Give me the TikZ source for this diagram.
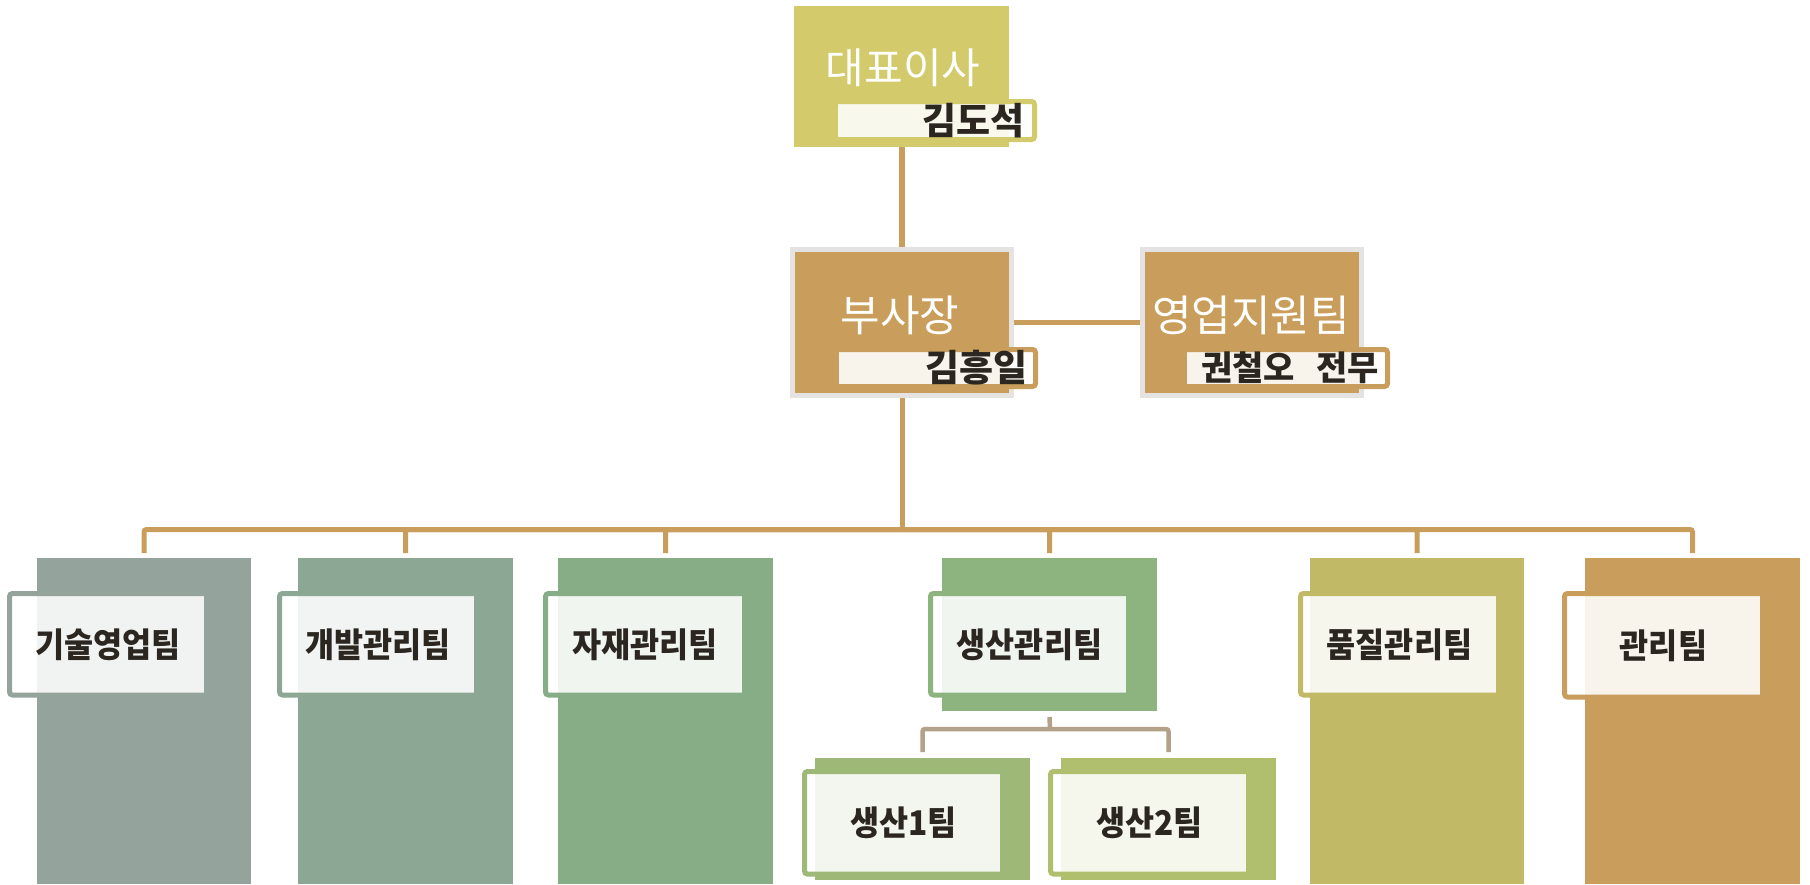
\documentclass[tikz,border=0pt]{standalone}
\usepackage{fontspec}
\newfontfamily\krA{Noto Sans CJK KR}
\newfontfamily\krT[FakeStretch=0.93]{Noto Sans CJK KR}
\definecolor{ceoC}{HTML}{D3CA6B}
\definecolor{goldC}{HTML}{C99E5C}
\definecolor{grayB}{HTML}{E5E3E1}
\definecolor{ksC}{HTML}{94A39B}
\definecolor{devC}{HTML}{8CA895}
\definecolor{matC}{HTML}{87AD87}
\definecolor{pmC}{HTML}{8DB37F}
\definecolor{poneC}{HTML}{9DB877}
\definecolor{ptwoC}{HTML}{B0BF6D}
\definecolor{qaC}{HTML}{C2B966}
\definecolor{admC}{HTML}{C99D5C}
\definecolor{txtC}{HTML}{2B2720}
\definecolor{subC}{HTML}{B4A189}
\begin{document}
\begin{tikzpicture}[x=1pt,y=-1pt,
  fillbox/.style={rectangle, inner sep=0pt, outer sep=0pt, anchor=north west, draw=none},
  headbox/.style={rectangle, inner sep=0pt, outer sep=2.5pt, fill=goldC, draw=grayB, line width=5pt, minimum width=219pt, minimum height=146pt},
  wlabel/.style={rectangle, inner sep=0pt, outer sep=0pt, anchor=north west, fill=white, fill opacity=0.88, text opacity=1, text=txtC, font=\krT\bfseries\fontsize{34}{38}\selectfont},
  outl/.style={line width=5pt, rounded corners=3pt},
  conn/.style={draw=goldC, line width=5pt},
  sconn/.style={draw=subC, line width=4.5pt},
  headtxt/.style={text=white, inner sep=0pt, font=\krA\fontsize{43}{46}\selectfont},
  nametxt/.style={text=txtC, inner sep=0pt, anchor=east, font=\krA\bfseries\fontsize{37}{40}\selectfont},
]
\useasboundingbox (0,0) rectangle (1810,884);
\fill[white] (0,0) rectangle (1810,884);

% ---- top: CEO ----
\node[fillbox, fill=ceoC, minimum width=215pt, minimum height=141pt] (ceo) at (794,6) {};
\node[headtxt, font=\krA\fontsize{42}{46}\selectfont] (ceotxt) at (903,68) {대표이사};
\node[wlabel, minimum width=192pt, minimum height=33pt] (ceolbl) at (838,104) {};
\draw[outl, draw=ceoC] ([shift={(-10pt,2.5pt)}]ceolbl.north west) rectangle ([shift={(4.5pt,-2.5pt)}]ceolbl.south east);
\node[nametxt] (ceoname) at ([xshift=-5pt]ceolbl.east) {김도석};

% ---- VP and sales support ----
\node[headbox] (vp) at (902,322.5) {};
\node[headbox] (sales) at (1252,322.5) {};
\node[headtxt] (vptxt) at (900,315) {부사장};
\node[headtxt] (salestxt) at (1251,315) {영업지원팀};
\node[wlabel, minimum width=192pt, minimum height=32pt] (vplbl) at (839,352) {};
\draw[outl, draw=goldC] ([shift={(-10pt,2.5pt)}]vplbl.north west) rectangle ([shift={(4.5pt,-2.5pt)}]vplbl.south east);
\node[nametxt] (vpname) at ([xshift=-3pt]vplbl.east) {김흥일};
\node[wlabel, minimum width=196pt, minimum height=32pt] (saleslbl) at (1187,352) {};
\draw[outl, draw=goldC] ([shift={(-10pt,2.5pt)}]saleslbl.north west) rectangle ([shift={(4.5pt,-2.5pt)}]saleslbl.south east);
\node[nametxt, font=\krA\bfseries\fontsize{34}{38}\selectfont] (salesname) at ([xshift=-4pt]saleslbl.east) {권철오\hspace{0.62em}전무};

% ---- connectors at top ----
\draw[conn, line width=6pt] (ceo.south) -- (ceo.south |- vp.north);
\draw[conn] (vp.east) -- (sales.west);
\coordinate (bus) at (902,529.5);
\draw[conn] (vp.south) -- (bus);

% ---- team boxes ----
\node[fillbox, fill=ksC, minimum width=214pt, minimum height=326pt] (ks) at (37,558) {};
\node[fillbox, fill=devC, minimum width=215pt, minimum height=326pt] (dev) at (298,558) {};
\node[fillbox, fill=matC, minimum width=215pt, minimum height=326pt] (mat) at (558,558) {};
\node[fillbox, fill=pmC, minimum width=215pt, minimum height=153pt] (pm) at (942,558) {};
\node[fillbox, fill=qaC, minimum width=214pt, minimum height=326pt] (qa) at (1310,558) {};
\node[fillbox, fill=admC, minimum width=215pt, minimum height=326pt] (adm) at (1585,558) {};
\node[fillbox, fill=poneC, minimum width=215pt, minimum height=122pt] (pone) at (815,758) {};
\node[fillbox, fill=ptwoC, minimum width=215pt, minimum height=122pt] (ptwo) at (1061,758) {};

% ---- team labels ----
\node[wlabel, minimum width=192pt, minimum height=97pt] (kslbl) at (12,596) {기술영업팀};
\draw[outl, draw=ksC] ([shift={(-2.5pt,2.5pt)}]kslbl.north west) rectangle ([shift={(8pt,-2pt)}]kslbl.south east);
\node[wlabel, minimum width=192pt, minimum height=97pt] (devlbl) at (282,596) {개발관리팀};
\draw[outl, draw=devC] ([shift={(-2.5pt,2.5pt)}]devlbl.north west) rectangle ([shift={(8pt,-2pt)}]devlbl.south east);
\node[wlabel, minimum width=194pt, minimum height=97pt] (matlbl) at (548,596) {자재관리팀};
\draw[outl, draw=matC] ([shift={(-2.5pt,2.5pt)}]matlbl.north west) rectangle ([shift={(8pt,-2pt)}]matlbl.south east);
\node[wlabel, minimum width=193pt, minimum height=97pt] (pmlbl) at (933,596) {생산관리팀};
\draw[outl, draw=pmC] ([shift={(-2.5pt,2.5pt)}]pmlbl.north west) rectangle ([shift={(8pt,-2pt)}]pmlbl.south east);
\node[wlabel, minimum width=193pt, minimum height=97pt] (qalbl) at (1303,596) {품질관리팀};
\draw[outl, draw=qaC] ([shift={(-2.5pt,2.5pt)}]qalbl.north west) rectangle ([shift={(8pt,-2pt)}]qalbl.south east);
\node[wlabel, minimum width=193pt, minimum height=99pt] (admlbl) at (1567,596) {관리팀};
\draw[outl, draw=admC] ([shift={(-2.5pt,2.5pt)}]admlbl.north west) rectangle ([shift={(8pt,-2pt)}]admlbl.south east);
\node[wlabel, minimum width=193pt, minimum height=98pt] (ponelbl) at (807,774) {생산1팀};
\draw[outl, draw=poneC] ([shift={(-2.5pt,2.5pt)}]ponelbl.north west) rectangle ([shift={(8pt,-2pt)}]ponelbl.south east);
\node[wlabel, minimum width=193pt, minimum height=98pt] (ptwolbl) at (1053,774) {생산2팀};
\draw[outl, draw=ptwoC] ([shift={(-2.5pt,2.5pt)}]ptwolbl.north west) rectangle ([shift={(8pt,-2pt)}]ptwolbl.south east);

% ---- bus drops ----
\foreach \t in {ks,dev,mat,pm,qa,adm}{
  \draw[conn, rounded corners=2.5pt] (bus) -| ([yshift=5pt]\t.north);
}

% ---- production sub-connector ----
\coordinate (sbus) at (1050,729);
\draw[sconn] ([yshift=-6pt]pm.south) -- (sbus);
\draw[sconn, rounded corners=2.5pt] (sbus) -| ([yshift=6pt]pone.north);
\draw[sconn, rounded corners=2.5pt] (sbus) -| ([yshift=6pt]ptwo.north);
\end{tikzpicture}
\end{document}
